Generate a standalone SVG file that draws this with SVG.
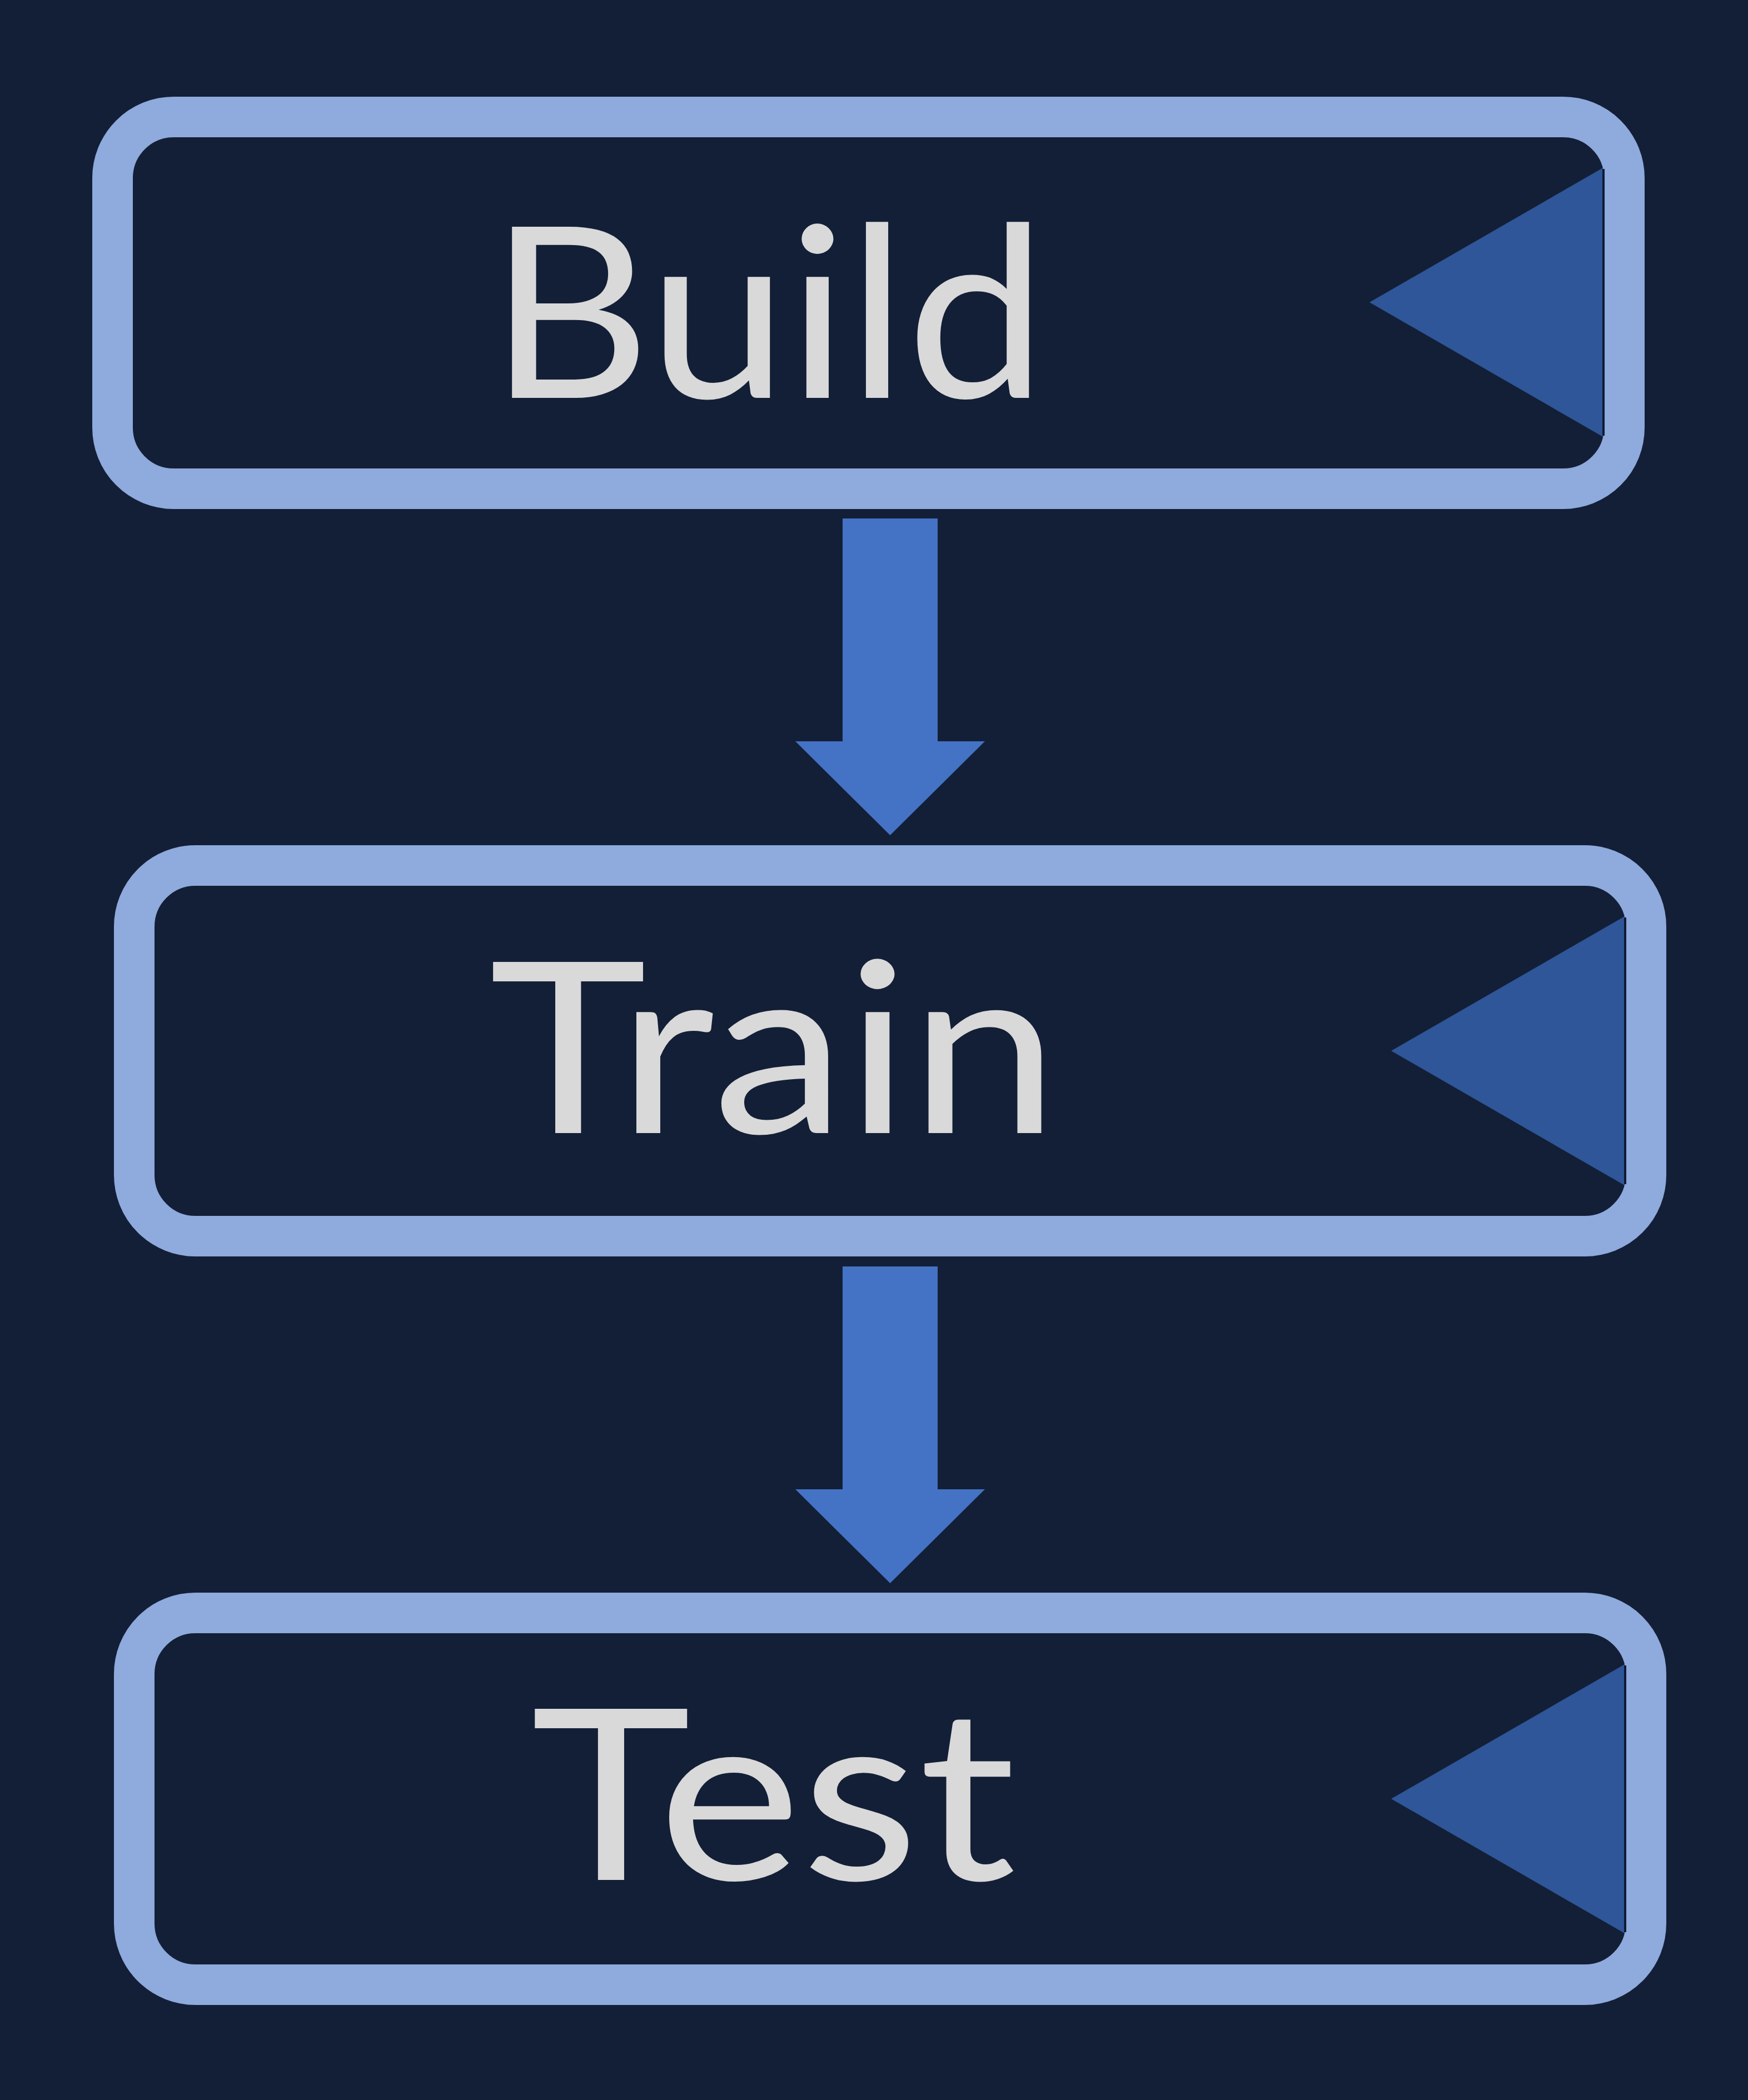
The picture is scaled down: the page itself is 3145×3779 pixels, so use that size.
<svg xmlns="http://www.w3.org/2000/svg" width="3145" height="3779" viewBox="0 0 3145 3779">
<style>
.box{fill:none;stroke:#8FAADC;stroke-width:73}
.tri{fill:#2E5698}
.edge{stroke:#0F1A33;stroke-width:4}
.arrow{fill:#4472C4}
.lbl{font-family:Lato,"Open Sans","Liberation Sans",sans-serif;font-size:430px;fill:#D9D9D9}
</style>
<rect x="0" y="0" width="3145" height="3779" fill="#131F37"/>
<g id="node-build">
<rect class="box" x="202.5" y="210.5" width="2720" height="669" rx="110"/>
<polygon class="tri" points="2464,544 2884,302 2884,786"/>
<line class="edge" x1="2885" y1="304" x2="2885" y2="784"/>
<text class="lbl" x="880" y="716" textLength="1003" lengthAdjust="spacingAndGlyphs">Build</text>
</g>
<g id="node-train">
<rect class="box" x="241.5" y="1557.5" width="2720" height="667" rx="110"/>
<polygon class="tri" points="2503,1891 2923,1649 2923,2133"/>
<line class="edge" x1="2924" y1="1651" x2="2924" y2="2131"/>
<text class="lbl" x="880" y="2039" textLength="1025" lengthAdjust="spacingAndGlyphs">Train</text>
</g>
<g id="node-test">
<rect class="box" x="241.5" y="2902.5" width="2720" height="669" rx="110"/>
<polygon class="tri" points="2503,3237 2923,2995 2923,3479"/>
<line class="edge" x1="2924" y1="2997" x2="2924" y2="3477"/>
<text class="lbl" x="955" y="3383" textLength="873" lengthAdjust="spacingAndGlyphs">Test</text>
</g>
<g id="connectors">
<polygon class="arrow" points="1516,933 1687,933 1687,1334 1772,1334 1601.5,1503 1431,1334 1516,1334"/>
<polygon class="arrow" points="1516,2279 1687,2279 1687,2680 1772,2680 1601.5,2849 1431,2680 1516,2680"/>
</g>
</svg>
